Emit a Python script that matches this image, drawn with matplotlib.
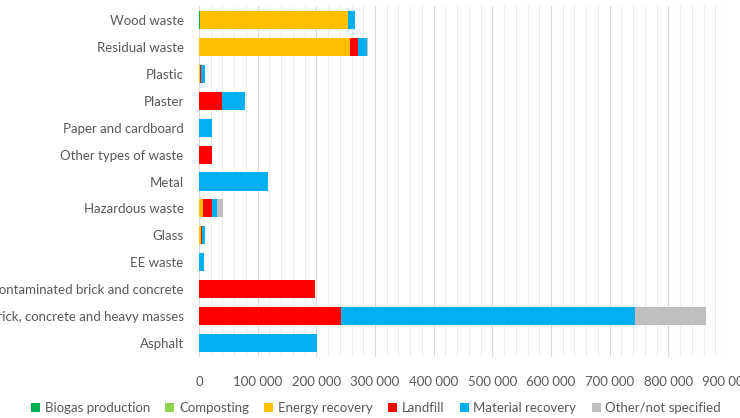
import matplotlib
matplotlib.use("Agg")
import matplotlib.pyplot as plt
from matplotlib.ticker import MultipleLocator, FuncFormatter
import numpy as np

categories = ["Asphalt", "Brick, concrete and heavy masses", "Contaminated brick and concrete",
              "EE waste", "Glass", "Hazardous waste", "Metal", "Other types of waste",
              "Paper and cardboard", "Plaster", "Plastic", "Residual waste", "Wood waste"]
series = ["Biogas production", "Composting", "Energy recovery", "Landfill",
          "Material recovery", "Other/not specified"]
colors = ["#00B050", "#92D050", "#FFC000", "#FF0000", "#00B0F0", "#BFBFBF"]

biogas    = [0, 0, 0, 0, 0, 0, 0, 0, 0, 0, 0, 0, 1500]
composting= [0, 0, 0, 0, 0, 0, 0, 0, 0, 0, 0, 0, 1000]
energy    = [0, 0, 0, 0, 3000, 7500, 0, 0, 0, 0, 1500, 257000, 251000]
landfill  = [0, 241500, 197000, 0, 2000, 15000, 0, 22500, 0, 39000, 1500, 14000, 0]
material  = [200500, 501500, 0, 9000, 5500, 8000, 117000, 0, 21500, 39000, 7000, 16000, 13000]
other     = [0, 121000, 0, 0, 0, 11000, 0, 0, 0, 0, 0, 1000, 0]
data = [biogas, composting, energy, landfill, material, other]

plt.rcParams['font.family'] = ['Lato', 'DejaVu Sans']
fig = plt.figure(figsize=(7.4, 4.18), dpi=100)
ax = fig.add_axes([0.2689, 0.147, 0.7135, 0.8375])

y = np.arange(len(categories))
left = np.zeros(len(categories))
for name, vals, c in zip(series, data, colors):
    vals = np.array(vals, dtype=float)
    ax.barh(y, vals, left=left, height=0.67, color=c, label=name, zorder=3)
    left += vals

ax.set_xlim(0, 900000)
ax.set_ylim(-0.5, len(categories) - 0.5)
ax.set_yticks(y)
ax.set_yticklabels(categories)
ax.xaxis.set_major_locator(MultipleLocator(100000))
ax.xaxis.set_minor_locator(MultipleLocator(20000))
ax.xaxis.set_major_formatter(FuncFormatter(lambda v, p: f"{int(v):,}".replace(",", " ")))
ax.grid(axis='x', which='major', color='#D9D9D9', linewidth=0.8, zorder=0)
ax.grid(axis='x', which='minor', color='#EDEDED', linewidth=0.8, zorder=0)
for s in ax.spines.values():
    s.set_visible(False)
ax.tick_params(axis='both', which='both', length=0, colors='#595959', labelsize=9.5)
ax.tick_params(axis='x', pad=14)
ax.tick_params(axis='y', pad=11)

handles, labels = ax.get_legend_handles_labels()
fig.legend(handles, labels, loc='center', bbox_to_anchor=(0.508, 1 - 408 / 418), ncol=6,
           frameon=False, fontsize=9.5, handlelength=0.7, handleheight=0.7,
           handletextpad=0.35, columnspacing=1.15, labelcolor='#595959',
           borderpad=0, borderaxespad=0)

fig.savefig("out.png", dpi=100)
